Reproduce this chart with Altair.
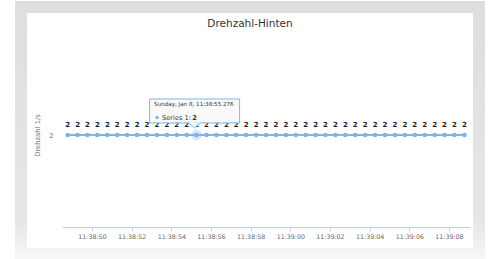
import altair as alt
import pandas as pd

DAY = "2017-01-08T"
times = ["11:38:48.776", "11:38:49.276", "11:38:49.776", "11:38:50.276", "11:38:50.776",
         "11:38:51.276", "11:38:51.776", "11:38:52.276", "11:38:52.776", "11:38:53.276",
         "11:38:53.776", "11:38:54.276", "11:38:54.776", "11:38:55.276", "11:38:55.776",
         "11:38:56.276", "11:38:56.776", "11:38:57.276", "11:38:57.776", "11:38:58.276",
         "11:38:58.776", "11:38:59.276", "11:38:59.776", "11:39:00.276", "11:39:00.776",
         "11:39:01.276", "11:39:01.776", "11:39:02.276", "11:39:02.776", "11:39:03.276",
         "11:39:03.776", "11:39:04.276", "11:39:04.776", "11:39:05.276", "11:39:05.776",
         "11:39:06.276", "11:39:06.776", "11:39:07.276", "11:39:07.776", "11:39:08.276",
         "11:39:08.776"]
values = [2] * len(times)

tick_seconds = [(38, 50), (38, 52), (38, 54), (38, 56), (38, 58),
                (39, 0), (39, 2), (39, 4), (39, 6), (39, 8)]

chart_title = "Drehzahl-Hinten"
hover_time = "11:38:55.276"
hover_value = 2
hover_date_label = "Sunday, Jan 8, 11:38:55.276"
series_name = "Series 1"

df = pd.DataFrame({"t": [DAY + t for t in times], "v": values})
df["lab"] = df["v"].astype(str)
hover = pd.DataFrame({"t": [DAY + hover_time], "v": [hover_value],
                      "date": [hover_date_label], "ser": [series_name + ": "],
                      "val": [str(hover_value)]})
title_df = pd.DataFrame({"title": [chart_title]})

FONT = "DejaVu Sans"
BLUE = "#7cb5ec"

def dt(m, s, ms=0):
    return alt.DateTime(year=2017, month=1, date=8, hours=11, minutes=m, seconds=s, milliseconds=ms)

x_scale = alt.Scale(domain=[dt(38, 48, 490), dt(39, 9, 60)])
y_scale = alt.Scale(domain=[0, 4])

x_enc = alt.X("t:T", scale=x_scale, axis=alt.Axis(
    values=[dt(m, s) for m, s in tick_seconds], format="%H:%M:%S", title=None,
    grid=False, domainColor="#C0D0E0", tickColor="#C0D0E0", tickSize=4,
    labelFont=FONT, labelFontSize=6.3, labelColor="#666666", labelPadding=2,
    zindex=1))
y_enc = alt.Y("v:Q", scale=y_scale, axis=alt.Axis(
    values=[2], title="Drehzahl 1/s", grid=False, domain=False, ticks=False,
    tickSize=0, labelFont=FONT, labelFontSize=6.5, labelColor="#666666",
    labelPadding=9, titleFont=FONT, titleFontSize=6.8, titleFontWeight="normal",
    titleColor="#777777", titlePadding=8, zindex=1))

frame = alt.Chart(df).mark_rect(
    color=alt.LinearGradient(gradient="linear", x1=0, x2=0, y1=0, y2=1,
                             stops=[alt.GradientStop(color="#dedede", offset=0),
                                    alt.GradientStop(color="#e6e6e6", offset=0.85),
                                    alt.GradientStop(color="#f7f7f7", offset=1)])
).encode(x=alt.value(-47), x2=alt.value(423), y=alt.value(-42), y2=alt.value(216))

card = alt.Chart(df).mark_rect(color="white").encode(
    x=alt.value(-35), x2=alt.value(411), y=alt.value(-30), y2=alt.value(205))

title = alt.Chart(title_df).mark_text(font=FONT, fontSize=10.5, color="#333333",
                                      align="center", baseline="middle").encode(
    text="title:N", x=alt.value(188), y=alt.value(-19))

base = alt.Chart(df).encode(x=x_enc, y=y_enc)
line = base.mark_line(color=BLUE, strokeWidth=2)
pts = base.mark_circle(color=BLUE, size=22, opacity=1)
labels = base.mark_text(font=FONT, fontSize=7, fontWeight="bold", color="#1a1a1a",
                        dy=-10).encode(text="lab:N")

hbase = alt.Chart(hover).encode(x=alt.X("t:T", scale=x_scale), y=alt.Y("v:Q", scale=y_scale))
halo = hbase.mark_circle(color=BLUE, size=110, opacity=0.3)
box = hbase.mark_point(
    shape="M-1,-0.267L1,-0.267L1,0.267L0.13,0.267L0,0.378L-0.13,0.267L-1,0.267Z",
    size=8100, filled=True, fill="#f8f8f8", fillOpacity=0.88, stroke=BLUE,
    strokeWidth=1, opacity=1, xOffset=-2, yOffset=-24)
t_date = hbase.mark_text(font=FONT, fontSize=5.6, color="#333333", align="left",
                         baseline="middle", dx=-42.5, dy=-31).encode(text="date:N")
t_dot = hbase.mark_circle(color=BLUE, size=12, opacity=1, xOffset=-39.5, yOffset=-17.5)
t_ser = hbase.mark_text(font=FONT, fontSize=6.6, color="#333333", align="left",
                        baseline="middle", dx=-34.5, dy=-17.5).encode(text="ser:N")
t_val = hbase.mark_text(font=FONT, fontSize=6.6, fontWeight="bold", color="#333333",
                        align="center", baseline="middle", dx=-2, dy=-17.5).encode(text="val:N")

chart = alt.layer(frame, card, title, line, pts, halo, labels, box, t_date, t_dot, t_ser, t_val).properties(
    width=408, height=184,
    padding={"left": 62, "top": 43, "right": 30, "bottom": 32},
    autosize=alt.AutoSizeParams(type="none"),
    background="white",
).configure_view(stroke=None)

chart.save("out.html", embed_options={"renderer": "svg", "actions": False})
